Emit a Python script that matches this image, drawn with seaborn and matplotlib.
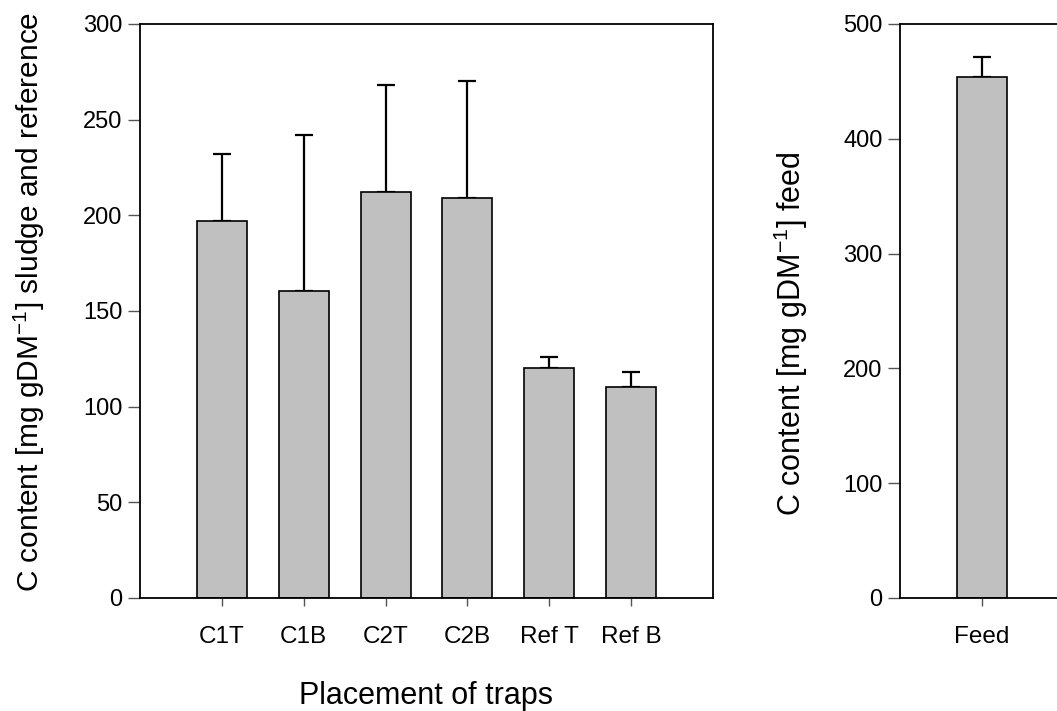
import numpy as np
import pandas as pd
import matplotlib
matplotlib.use("Agg")
import matplotlib.pyplot as plt
import seaborn as sns

# Carbon content in sediment traps (sludge and reference) and in the feed
trap_labels = ["C1T", "C1B", "C2T", "C2B", "Ref T", "Ref B"]
trap_means = [197.0, 160.5, 212.0, 209.0, 120.0, 110.5]
trap_sd = [35.0, 81.5, 56.0, 61.0, 6.0, 7.5]

feed_labels = ["Feed"]
feed_means = [454.0]
feed_sd = [17.5]

left_ticks = [0, 50, 100, 150, 200, 250, 300]
right_ticks = [0, 100, 200, 300, 400, 500]

sns.set_theme(style="white")
plt.rcParams["font.family"] = ["Liberation Sans", "DejaVu Sans"]
plt.rcParams["mathtext.fontset"] = "custom"
plt.rcParams["mathtext.rm"] = "Liberation Sans"
plt.rcParams["mathtext.it"] = "Liberation Sans"
plt.rcParams["text.color"] = "black"
plt.rcParams["axes.labelcolor"] = "black"

W, H = 1057, 711
fig = plt.figure(figsize=(W / 100, H / 100), dpi=100)
fig.patch.set_facecolor("white")

ax1 = fig.add_axes([140 / W, (H - 598) / H, 573 / W, 574 / H])
ax2 = fig.add_axes([900 / W, (H - 598) / H, 164 / W, 574 / H])

bar_fill = "#c0c0c0"
bar_w = 0.61


def draw_panel(ax, labels, means, sd):
    df = pd.DataFrame({"place": labels, "value": means})
    sns.barplot(data=df, x="place", y="value", ax=ax, color=bar_fill,
                edgecolor="black", linewidth=1.2, width=bar_w,
                errorbar=None, saturation=1, zorder=2)
    xs = np.arange(len(labels))
    # upper error bars only; the lower half is hidden behind the bars
    ax.errorbar(xs, means, yerr=[np.zeros(len(sd)), sd], fmt="none",
                ecolor="black", elinewidth=1.6, capsize=6.8, capthick=1.6,
                zorder=1)
    for s in ax.spines.values():
        s.set_visible(True)
        s.set_color("black")
        s.set_linewidth(1.3)
        s.set_zorder(3)
    ax.tick_params(axis="y", direction="out", length=8.5, width=1.0,
                   color="#555555", pad=4, labelsize=17, left=True,
                   labelcolor="black")
    ax.tick_params(axis="x", direction="out", length=6, width=1.0,
                   color="#555555", pad=14, labelsize=17.5, bottom=True,
                   labelcolor="black")


draw_panel(ax1, trap_labels, trap_means, trap_sd)
ax1.set_xlim(-1, 6)
ax1.set_ylim(0, 300)
ax1.set_yticks(left_ticks)
ax1.set_xlabel("Placement of traps", fontsize=22)
ax1.xaxis.set_label_coords(0.499, -0.145)
ax1.set_ylabel(r"C content [mg gDM$^{\mathregular{-1}}$] sludge and reference",
               fontsize=21.5)
ax1.yaxis.set_label_coords(-0.162, 0.515)

draw_panel(ax2, feed_labels, feed_means, feed_sd)
ax2.set_xlim(-1, 1)
ax2.set_ylim(0, 500)
ax2.set_yticks(right_ticks)
ax2.set_xlabel("")
ax2.set_ylabel(r"C content [mg gDM$^{\mathregular{-1}}$] feed", fontsize=22)
ax2.yaxis.set_label_coords(-0.55, 0.46)

fig.savefig("out.png", dpi=100, facecolor="white")
